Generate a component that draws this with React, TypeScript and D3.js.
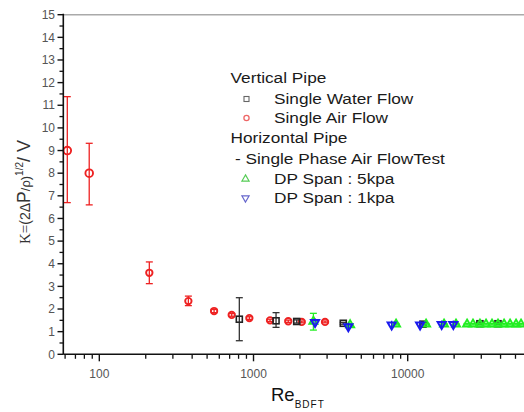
import React from "react";
import * as d3 from "d3";

// ---- data ----
const airRe = [62, 86, 211, 378, 555, 722, 940, 1280, 1680, 2055, 2910];
const airK = [9.0, 8.0, 3.6, 2.35, 1.91, 1.74, 1.6, 1.5, 1.46, 1.43, 1.43];
const airLo = [6.7, 6.6, 3.12, 2.15, 1.84, 1.68, 1.54, 1.45, 1.41, 1.39, 1.39];
const airHi = [11.38, 9.32, 4.08, 2.57, 1.98, 1.8, 1.66, 1.55, 1.51, 1.47, 1.47];

const waterRe = [809, 1400, 1906, 3820, 12560, 29400, 38500];
const waterK = [1.55, 1.48, 1.45, 1.37, 1.33, 1.35, 1.35];
const waterLo = [0.6, 1.19, 1.38, 1.33, 1.3, 1.31, 1.31];
const waterHi = [2.5, 1.84, 1.52, 1.41, 1.36, 1.39, 1.39];

const dp5Re = [2445, 4230, 8400, 13150, 17200, 20560, 24260, 26500, 29400, 32200, 35200, 38500, 42150, 46100, 50400, 54300];
const dp5K = [1.45, 1.3, 1.33, 1.33, 1.33, 1.33, 1.33, 1.33, 1.33, 1.33, 1.33, 1.33, 1.33, 1.33, 1.33, 1.33];
const dp5Lo = [1.07, 1.26, 1.3, 1.3, 1.3, 1.3, 1.3, 1.3, 1.3, 1.3, 1.3, 1.3, 1.3, 1.3, 1.3, 1.3];
const dp5Hi = [1.81, 1.34, 1.36, 1.36, 1.36, 1.36, 1.36, 1.36, 1.36, 1.36, 1.36, 1.36, 1.36, 1.36, 1.36, 1.36];

const dp1Re = [2506, 4120, 7870, 12030, 16600, 19760];
const dp1K = [1.41, 1.22, 1.3, 1.3, 1.32, 1.32];

const xMajorTicks = [100, 1000, 10000];
const xTickLabels = ["100", "1000", "10000"];
const yTicks = [0, 1, 2, 3, 4, 5, 6, 7, 8, 9, 10, 11, 12, 13, 14, 15];

const legendItems = [
  { kind: "header", text: "Vertical Pipe" },
  { kind: "square", text: "Single Water Flow" },
  { kind: "circle", text: "Single Air Flow" },
  { kind: "header", text: "Horizontal Pipe" },
  { kind: "sub", text: "- Single Phase Air FlowTest" },
  { kind: "tri", text: "DP Span : 5kpa" },
  { kind: "dtri", text: "DP Span : 1kpa" },
];

const W = 524;
const H = 412;
const FONT = "'Liberation Sans', Arial, sans-serif";

export default function App() {
  const x = d3.scaleLog().domain([58.4, 60000]).range([63.3, 527.7]);
  const y = d3.scaleLinear().domain([0, 15]).range([354.3, 14.7]);

  const xMinor: number[] = [];
  [10, 100, 1000, 10000].forEach((dec) => {
    for (let m = 2; m <= 9; m++) {
      const v = dec * m;
      if (v >= 58.4 && v <= 60000) xMinor.push(v);
    }
  });
  const yMinor = d3.range(0.5, 15, 1);

  const tri = d3.symbol().type(d3.symbolTriangle).size(28)() as string;
  const legTri = d3.symbol().type(d3.symbolTriangle).size(22)() as string;

  const RED = "#ee2222";
  const BLACK = "#222";
  const GREEN = "#22ee22";
  const BLUE = "#1a1aee";

  const errBar = (cx: number, lo: number, hi: number, color: string, key: string) => {
    const y1 = y(lo);
    const y2 = y(hi);
    return (
      <g key={key} stroke={color} strokeWidth={1.3}>
        <line x1={cx} x2={cx} y1={y1} y2={y2} />
        <line x1={cx - 3.5} x2={cx + 3.5} y1={y1} y2={y1} />
        <line x1={cx - 3.5} x2={cx + 3.5} y1={y2} y2={y2} />
      </g>
    );
  };

  const legendYs = [83, 104, 123, 143, 164, 184, 203];

  return (
    <svg width={W} height={H} style={{ position: "absolute", left: 0, top: 0, background: "#fff" }} fontFamily={FONT}>
      <rect x={0} y={0} width={W} height={H} fill="#fff" />
      {/* top frame line */}
      <line x1={63.3} x2={W} y1={y(15)} y2={y(15)} stroke="#aaa" strokeWidth={1.6} />

      {/* data: air (red circles) */}
      {airRe.map((r, i) => errBar(x(r), airLo[i], airHi[i], RED, "ae" + i))}
      {airRe.map((r, i) => (
        <circle key={"a" + i} cx={x(r)} cy={y(airK[i])} r={i < 2 ? 3.8 : 3.2} fill="none" stroke={RED} strokeWidth={1.9} />
      ))}

      {/* water (black squares) */}
      {waterRe.map((r, i) => errBar(x(r), waterLo[i], waterHi[i], "#333", "we" + i))}
      {waterRe.map((r, i) => (
        <rect key={"w" + i} x={x(r) - 3} y={y(waterK[i]) - 3} width={6} height={6} fill="none" stroke={BLACK} strokeWidth={1.6} />
      ))}

      {/* DP 5kpa (green triangles) */}
      {dp5Re.map((r, i) => errBar(x(r), dp5Lo[i], dp5Hi[i], GREEN, "ge" + i))}
      {dp5Re.map((r, i) => (
        <path key={"g" + i} d={tri} transform={`translate(${x(r)},${y(dp5K[i])})`} fill="none" stroke={GREEN} strokeWidth={1.9} />
      ))}

      {/* DP 1kpa (blue down triangles) */}
      {dp1Re.map((r, i) => (
        <g key={"b" + i}>
          <line x1={x(r)} x2={x(r)} y1={y(dp1K[i]) - 4} y2={y(dp1K[i]) + 4} stroke={BLUE} strokeWidth={1.3} />
          <path d={tri} transform={`translate(${x(r)},${y(dp1K[i])}) rotate(180)`} fill="none" stroke={BLUE} strokeWidth={2} />
        </g>
      ))}

      {/* axes */}
      <line x1={63.3} x2={63.3} y1={y(15) - 1} y2={y(0)} stroke="#111" strokeWidth={1.6} />
      <line x1={63.3} x2={W} y1={y(0)} y2={y(0)} stroke="#111" strokeWidth={1.6} />
      {yTicks.map((t) => (
        <g key={"yt" + t}>
          <line x1={57.5} x2={63.3} y1={y(t)} y2={y(t)} stroke="#111" strokeWidth={1.4} />
          <text x={55} y={y(t) + 4.2} textAnchor="end" fontSize={12} fill="#555">
            {t}
          </text>
        </g>
      ))}
      {yMinor.map((t) => (
        <line key={"ym" + t} x1={59.5} x2={63.3} y1={y(t)} y2={y(t)} stroke="#111" strokeWidth={1.3} />
      ))}
      {xMajorTicks.map((t, i) => (
        <g key={"xt" + t}>
          <line x1={x(t)} x2={x(t)} y1={y(0)} y2={y(0) + 7} stroke="#111" strokeWidth={1.4} />
          <text x={x(t)} y={378} textAnchor="middle" fontSize={12} fill="#555">
            {xTickLabels[i]}
          </text>
        </g>
      ))}
      {xMinor.map((t) => (
        <line key={"xm" + t} x1={x(t)} x2={x(t)} y1={y(0)} y2={y(0) + 4.5} stroke="#111" strokeWidth={1.3} />
      ))}

      {/* axis titles */}
      <text x={271} y={401} fontSize={18.5} fill="#111">
        Re
        <tspan fontSize={10} dy={7} letterSpacing={1}>
          BDFT
        </tspan>
      </text>
      <text transform="translate(30,192) rotate(-90)" textAnchor="middle" fill="#333">
        <tspan fontFamily="'Liberation Serif', serif" fontSize={15}>K=</tspan>
        <tspan fontSize={14}>(2Δ</tspan>
        <tspan fontSize={17.5}>P</tspan>
        <tspan fontSize={13}>/ρ)</tspan>
        <tspan fontSize={10} dy={-7}>1/2</tspan>
        <tspan fontSize={18} dy={7}>/ V</tspan>
      </text>

      {/* legend */}
      {legendItems.map((it, i) => {
        const ly = legendYs[i];
        const cy = ly - 5;
        let marker: React.ReactNode = null;
        if (it.kind === "square")
          marker = <rect x={244} y={cy - 2.5} width={5} height={5} fill="none" stroke="#666" strokeWidth={1.1} />;
        if (it.kind === "circle") marker = <circle cx={246.5} cy={cy} r={2.6} fill="none" stroke="#e66" strokeWidth={1.3} />;
        if (it.kind === "tri")
          marker = <path d={legTri} transform={`translate(245.5,${cy})`} fill="none" stroke="#55cc55" strokeWidth={1.2} />;
        if (it.kind === "dtri")
          marker = <path d={legTri} transform={`translate(245.5,${cy}) rotate(180)`} fill="none" stroke="#6666cc" strokeWidth={1.2} />;
        const tx = it.kind === "header" ? 230.5 : it.kind === "sub" ? 235 : 274;
        return (
          <g key={"lg" + i}>
            {marker}
            <text transform={`translate(${tx},${ly}) scale(1.15,1)`} fontSize={15} fill="#1a1a1a">
              {it.text}
            </text>
          </g>
        );
      })}
    </svg>
  );
}
